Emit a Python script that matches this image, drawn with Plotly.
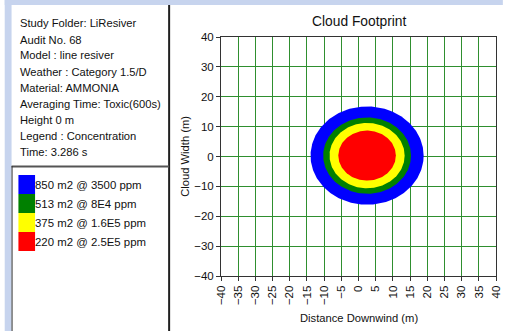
import numpy as np
import plotly.graph_objects as go

# ---- chart data -------------------------------------------------------------
info_lines = [
    "Study Folder: LiResiver",
    "Audit No. 68",
    "Model : line resiver",
    "Weather : Category 1.5/D",
    "Material: AMMONIA",
    "Averaging Time: Toxic(600s)",
    "Height 0 m",
    "Legend : Concentration",
    "Time: 3.286 s",
]
footprint_area_m2 = [850, 513, 375, 220]
concentration_labels = ["3500 ppm", "8E4 ppm", "1.6E5 ppm", "2.5E5 ppm"]
contour_colors = ["#0000FF", "#008000", "#FFFF00", "#FF0000"]
cloud_centre_x = 2.5   # m downwind
cloud_centre_y = 0.3   # m crosswind
x_ticks = list(range(-40, 45, 5))
y_ticks = list(range(-40, 50, 10))

# ---- figure geometry (pixels) ----------------------------------------------
W, H = 509, 331
ML, MR, MT, MB = 221, 7, 37, 55
PW, PH = W - ML - MR, H - MT - MB

def px(x):
    return (x - ML) / PW

def py(y):
    return (H - MB - y) / PH

FONT = "Liberation Sans, Arial, sans-serif"
TXT = "#111111"
PANEL_BG = "#C7D4EE"

fig = go.Figure()

# Concentration contours, largest first, each an equal-area circle
theta = np.linspace(0, 2 * np.pi, 241)
for area, col in zip(footprint_area_m2, contour_colors):
    r = np.sqrt(area / np.pi)
    fig.add_trace(go.Scatter(
        x=cloud_centre_x + r * np.cos(theta),
        y=cloud_centre_y + r * np.sin(theta),
        mode="lines", fill="toself", fillcolor=col,
        line=dict(width=0, color=col),
        hoverinfo="skip", showlegend=False,
    ))

shapes = [
    # window frame strips
    dict(type="rect", xref="paper", yref="paper", x0=px(0), x1=px(W), y0=py(0), y1=py(5),
         fillcolor=PANEL_BG, line_width=0, layer="below"),
    dict(type="rect", xref="paper", yref="paper", x0=px(0), x1=px(7), y0=py(0), y1=py(H),
         fillcolor=PANEL_BG, line_width=0, layer="below"),
    # panel separators
    dict(type="line", xref="paper", yref="paper", x0=px(168), x1=px(168), y0=py(5), y1=py(H),
         line=dict(color="#202020", width=2)),
    dict(type="line", xref="paper", yref="paper", x0=px(7), x1=px(168), y0=py(166.5), y1=py(166.5),
         line=dict(color="#555555", width=2)),
    dict(type="line", xref="paper", yref="paper", x0=px(7.5), x1=px(7.5), y0=py(166), y1=py(H),
         line=dict(color="#303030", width=1)),
]

annotations = []
for i, line in enumerate(info_lines):
    annotations.append(dict(
        text=line, xref="paper", yref="paper", x=px(14), y=py(23.5 + 16 * i),
        xanchor="left", yanchor="middle", showarrow=False,
        font=dict(family=FONT, size=11.2, color=TXT),
    ))

for i, (area, conc, col) in enumerate(zip(footprint_area_m2, concentration_labels, contour_colors)):
    top = 175 + 19 * i
    shapes.append(dict(type="rect", xref="paper", yref="paper",
                       x0=px(14), x1=px(31), y0=py(top), y1=py(top + 19),
                       fillcolor=col, line_width=0))
    annotations.append(dict(
        text=f"{area} m2 @ {conc}", xref="paper", yref="paper", x=px(29), y=py(top + 9.5),
        xanchor="left", yanchor="middle", showarrow=False,
        font=dict(family=FONT, size=11.4, color=TXT),
    ))

# chart and axis titles
annotations += [
    dict(text="Cloud Footprint", xref="paper", yref="paper", x=0.5, y=py(21),
         xanchor="center", yanchor="middle", showarrow=False,
         font=dict(family=FONT, size=13.8, color=TXT)),
    dict(text="Distance Downwind (m)", xref="paper", yref="paper", x=0.5, y=py(318),
         xanchor="center", yanchor="middle", showarrow=False,
         font=dict(family=FONT, size=11.2, color=TXT)),
    dict(text="Cloud Width (m)", xref="paper", yref="paper", x=px(184), y=py(156),
         xanchor="center", yanchor="middle", showarrow=False, textangle=-90,
         font=dict(family=FONT, size=11.2, color=TXT)),
]

axis_common = dict(
    showgrid=True, gridcolor="#2f8f2f", gridwidth=1,
    showline=True, linecolor="#333333", linewidth=1, mirror=True,
    ticks="outside", ticklen=4, tickcolor="#333333",
    tickfont=dict(family=FONT, size=11.5, color=TXT),
    ticklabeloverflow="allow",
    zeroline=False, fixedrange=True,
)

fig.update_layout(
    width=W, height=H,
    margin=dict(l=ML, r=MR, t=MT, b=MB, pad=0),
    paper_bgcolor="white", plot_bgcolor="white",
    showlegend=False,
    shapes=shapes, annotations=annotations,
    xaxis=dict(range=[-40, 40], tickvals=x_ticks, tickangle=-90, **axis_common),
    yaxis=dict(range=[-40, 40], tickvals=y_ticks, **axis_common),
)

fig.write_html("out.html", config={"displayModeBar": False})
